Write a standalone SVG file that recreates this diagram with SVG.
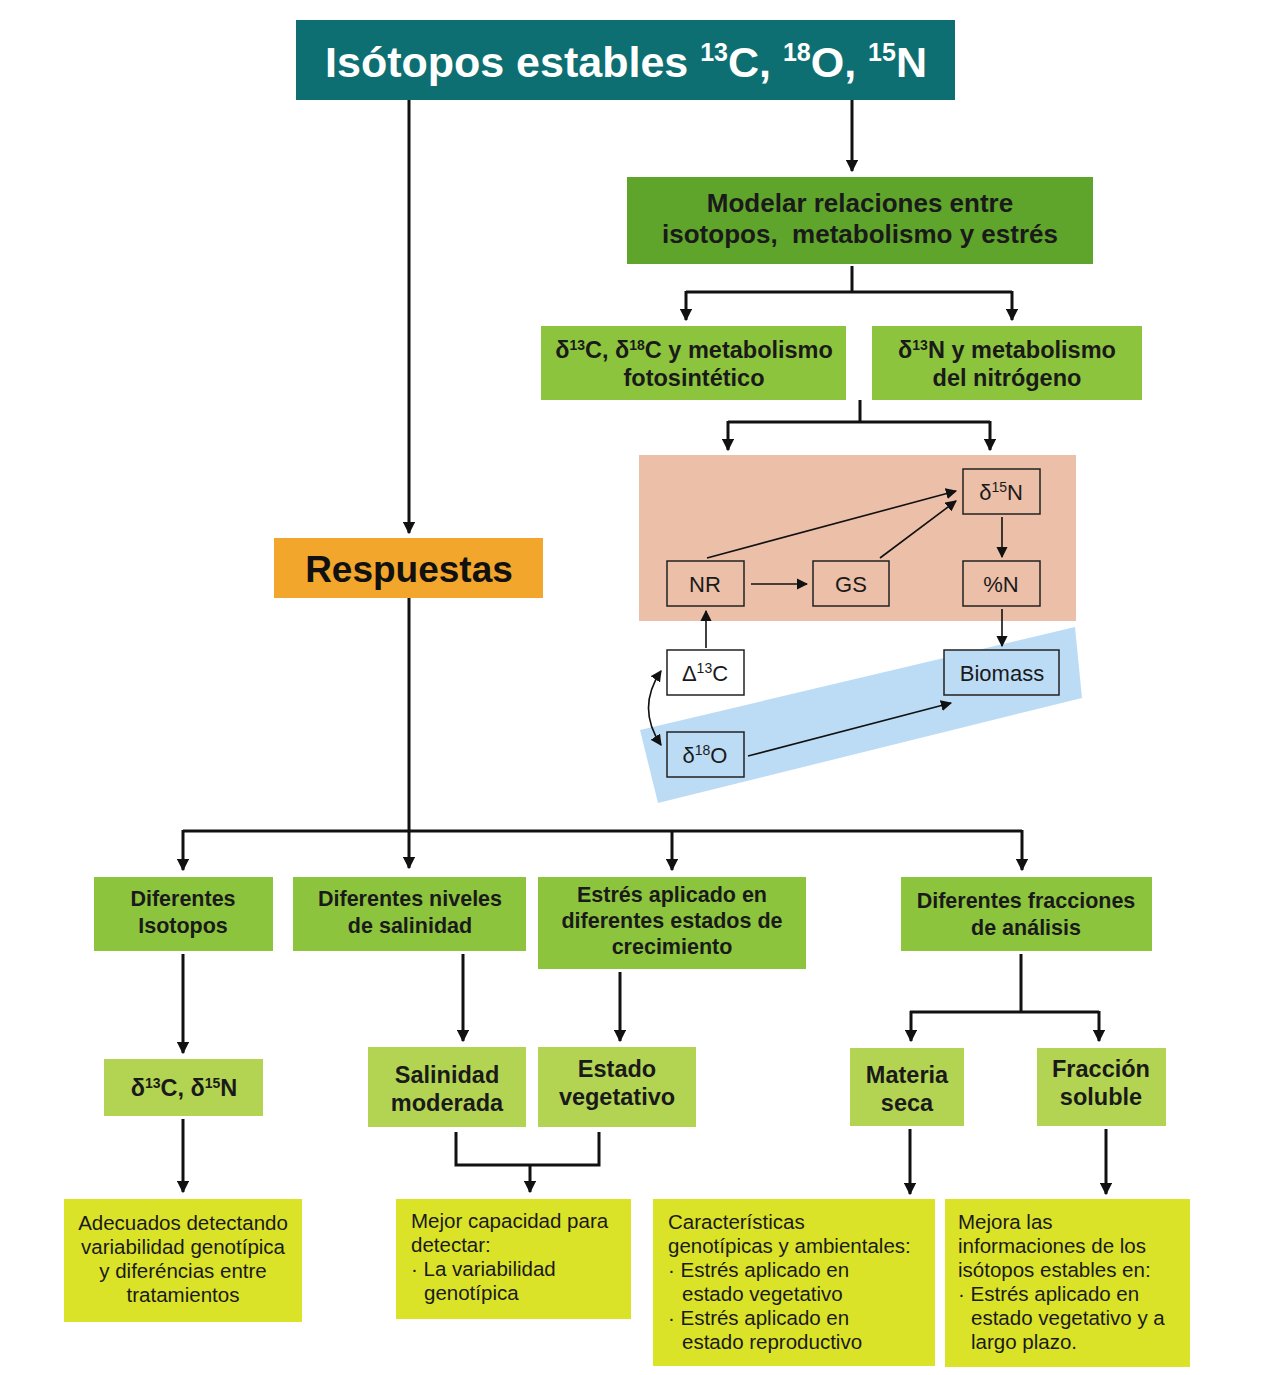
<svg xmlns="http://www.w3.org/2000/svg" width="1269" height="1375" viewBox="0 0 1269 1375">
  <defs>
    <marker id="ah" viewBox="0 0 10 10" refX="9" refY="5" markerWidth="4.2" markerHeight="4.2" orient="auto" markerUnits="strokeWidth">
      <path d="M0,0 L10,5 L0,10 z" fill="#111"/>
    </marker>
    <marker id="ahs" viewBox="0 0 10 10" refX="9" refY="5" markerWidth="7" markerHeight="7" orient="auto" markerUnits="strokeWidth">
      <path d="M0,0 L10,5 L0,10 z" fill="#111"/>
    </marker>
    <marker id="ahs0" viewBox="0 0 10 10" refX="1" refY="5" markerWidth="7" markerHeight="7" orient="auto" markerUnits="strokeWidth">
      <path d="M10,0 L0,5 L10,10 z" fill="#111"/>
    </marker>
  </defs>
  <style>
    text { font-family: "Liberation Sans", Arial, sans-serif; fill: #1a1a1a; }
    .title { fill: #ffffff; font-weight: bold; font-size: 43px; }
    .b24 { font-weight: bold; font-size: 26px; }
    .b22 { font-weight: bold; font-size: 23.5px; }
    .b20 { font-weight: bold; font-size: 21.5px; }
    .resp { font-weight: bold; font-size: 37px; fill: #111; }
    .r19 { font-size: 20.5px; }
    .n20 { font-size: 22px; }
    .c { text-anchor: middle; }
    .teal { fill: #0e6f73; }
    .g1 { fill: #5fa52b; }
    .g2 { fill: #8cc43e; }
    .g3 { fill: #b3d452; }
    .yel { fill: #dae328; }
    .org { fill: #f2a62c; }
    .nb { stroke: #222; stroke-width: 1.5; }
    .con { fill: none; stroke: #111; stroke-width: 3; }
    .thin { fill: none; stroke: #111; stroke-width: 1.6; }
  </style>

  <rect width="1269" height="1375" fill="#ffffff"/>

  <!-- background regions of the model -->
  <rect x="639" y="455" width="437" height="166" fill="#ecbfa8"/>
  <polygon points="640,730 1075,627 1082,698 658,803" fill="#bcdcf6"/>

  <!-- connectors -->
  <g id="connectors">
    <path class="con" d="M409,100 V533" marker-end="url(#ah)"/>
    <path class="con" d="M852,100 V171" marker-end="url(#ah)"/>
    <path class="con" d="M852,266 V292 M686,292 H1012"/>
    <path class="con" d="M686,291 V320" marker-end="url(#ah)"/>
    <path class="con" d="M1012,291 V320" marker-end="url(#ah)"/>
    <path class="con" d="M860,400 V422 M728,422 H990"/>
    <path class="con" d="M728,421 V450" marker-end="url(#ah)"/>
    <path class="con" d="M990,421 V450" marker-end="url(#ah)"/>

    <path class="con" d="M409,598 V868" marker-end="url(#ah)"/>
    <path class="con" d="M183,831 H1022"/>
    <path class="con" d="M183,830 V870" marker-end="url(#ah)"/>
    <path class="con" d="M672,830 V870" marker-end="url(#ah)"/>
    <path class="con" d="M1022,830 V870" marker-end="url(#ah)"/>

    <path class="con" d="M183,954 V1053" marker-end="url(#ah)"/>
    <path class="con" d="M463,954 V1041" marker-end="url(#ah)"/>
    <path class="con" d="M620,972 V1041" marker-end="url(#ah)"/>
    <path class="con" d="M1021,954 V1012 M910,1012 H1099"/>
    <path class="con" d="M911,1011 V1041" marker-end="url(#ah)"/>
    <path class="con" d="M1099,1011 V1041" marker-end="url(#ah)"/>

    <path class="con" d="M183,1119 V1192" marker-end="url(#ah)"/>
    <path class="con" d="M456,1132 V1165 H599 V1132"/>
    <path class="con" d="M530,1164 V1192" marker-end="url(#ah)"/>
    <path class="con" d="M910,1129 V1194" marker-end="url(#ah)"/>
    <path class="con" d="M1106,1129 V1194" marker-end="url(#ah)"/>

    <!-- model arrows -->
    <path class="thin" d="M707,558 L956,491" marker-end="url(#ahs)"/>
    <path class="thin" d="M751,584 H807" marker-end="url(#ahs)"/>
    <path class="thin" d="M880,558 L956,501" marker-end="url(#ahs)"/>
    <path class="thin" d="M1002,517 V557" marker-end="url(#ahs)"/>
    <path class="thin" d="M1002,609 V646" marker-end="url(#ahs)"/>
    <path class="thin" d="M706,648 V611" marker-end="url(#ahs)"/>
    <path class="thin" d="M748,756 L951,703" marker-end="url(#ahs)"/>
    <path class="thin" d="M661,671 Q636,708 661,745" marker-start="url(#ahs0)" marker-end="url(#ahs)"/>
  </g>

  <g id="n-title">
    <rect class="teal" x="296" y="20" width="659" height="80"/>
    <text class="title c" x="626" y="77">Isótopos estables <tspan font-size="25" dy="-16">13</tspan><tspan dy="16">C, </tspan><tspan font-size="25" dy="-16">18</tspan><tspan dy="16">O, </tspan><tspan font-size="25" dy="-16">15</tspan><tspan dy="16">N</tspan></text>
  </g>

  <g id="n-modelar">
    <rect class="g1" x="627" y="177" width="466" height="87"/>
    <text class="b24 c" x="860" y="212">Modelar relaciones entre</text>
    <text class="b24 c" x="860" y="243" xml:space="preserve">isotopos,  metabolismo y estrés</text>
  </g>

  <g id="n-fotosintetico">
    <rect class="g2" x="541" y="326" width="305" height="74"/>
    <text class="b22 c" x="694" y="358">δ<tspan font-size="14" dy="-8">13</tspan><tspan dy="8">C, δ</tspan><tspan font-size="14" dy="-8">18</tspan><tspan dy="8">C y metabolismo</tspan></text>
    <text class="b22 c" x="694" y="386">fotosintético</text>
  </g>

  <g id="n-nitrogeno">
    <rect class="g2" x="872" y="326" width="270" height="74"/>
    <text class="b22 c" x="1007" y="358">δ<tspan font-size="14" dy="-8">13</tspan><tspan dy="8">N y metabolismo</tspan></text>
    <text class="b22 c" x="1007" y="386">del nitrógeno</text>
  </g>

  <g id="n-d15n">
    <rect class="nb" fill="#ecbfa8" x="963" y="469" width="77" height="45"/>
    <text class="n20 c" x="1001" y="500">δ<tspan font-size="14" dy="-8">15</tspan><tspan dy="8">N</tspan></text>
  </g>
  <g id="n-nr">
    <rect class="nb" fill="#ecbfa8" x="667" y="561" width="77" height="45"/>
    <text class="n20 c" x="705" y="592">NR</text>
  </g>
  <g id="n-gs">
    <rect class="nb" fill="#ecbfa8" x="813" y="561" width="76" height="45"/>
    <text class="n20 c" x="851" y="592">GS</text>
  </g>
  <g id="n-pn">
    <rect class="nb" fill="#ecbfa8" x="963" y="561" width="77" height="45"/>
    <text class="n20 c" x="1001" y="592">%N</text>
  </g>
  <g id="n-d13c">
    <rect class="nb" fill="#ffffff" x="667" y="650" width="77" height="45"/>
    <text class="n20 c" x="705" y="681">Δ<tspan font-size="14" dy="-8">13</tspan><tspan dy="8">C</tspan></text>
  </g>
  <g id="n-biomass">
    <rect class="nb" fill="#bcdcf6" x="944" y="650" width="115" height="45"/>
    <text class="n20 c" x="1002" y="681">Biomass</text>
  </g>
  <g id="n-d18o">
    <rect class="nb" fill="#bcdcf6" x="667" y="732" width="77" height="45"/>
    <text class="n20 c" x="705" y="763">δ<tspan font-size="14" dy="-8">18</tspan><tspan dy="8">O</tspan></text>
  </g>

  <g id="n-respuestas">
    <rect class="org" x="274" y="538" width="269" height="60"/>
    <text class="resp c" x="409" y="582">Respuestas</text>
  </g>

  <g id="n-isotopos">
    <rect class="g2" x="94" y="877" width="179" height="74"/>
    <text class="b20 c" x="183" y="906">Diferentes</text>
    <text class="b20 c" x="183" y="933">Isotopos</text>
  </g>
  <g id="n-salinidad">
    <rect class="g2" x="293" y="877" width="233" height="74"/>
    <text class="b20 c" x="410" y="906">Diferentes niveles</text>
    <text class="b20 c" x="410" y="933">de salinidad</text>
  </g>
  <g id="n-estres">
    <rect class="g2" x="538" y="877" width="268" height="92"/>
    <text class="b20 c" x="672" y="902">Estrés aplicado en</text>
    <text class="b20 c" x="672" y="928">diferentes estados de</text>
    <text class="b20 c" x="672" y="954">crecimiento</text>
  </g>
  <g id="n-fracciones">
    <rect class="g2" x="901" y="877" width="251" height="74"/>
    <text class="b20 c" x="1026" y="908">Diferentes fracciones</text>
    <text class="b20 c" x="1026" y="935">de análisis</text>
  </g>

  <g id="n-d13c-d15n">
    <rect class="g3" x="104" y="1059" width="159" height="57"/>
    <text class="b22 c" x="184" y="1096">δ<tspan font-size="14" dy="-8">13</tspan><tspan dy="8">C, δ</tspan><tspan font-size="14" dy="-8">15</tspan><tspan dy="8">N</tspan></text>
  </g>
  <g id="n-moderada">
    <rect class="g3" x="368" y="1047" width="158" height="80"/>
    <text class="b22 c" x="447" y="1083">Salinidad</text>
    <text class="b22 c" x="447" y="1111">moderada</text>
  </g>
  <g id="n-vegetativo">
    <rect class="g3" x="538" y="1047" width="158" height="80"/>
    <text class="b22 c" x="617" y="1077">Estado</text>
    <text class="b22 c" x="617" y="1105">vegetativo</text>
  </g>
  <g id="n-materia">
    <rect class="g3" x="850" y="1048" width="114" height="78"/>
    <text class="b22 c" x="907" y="1083">Materia</text>
    <text class="b22 c" x="907" y="1111">seca</text>
  </g>
  <g id="n-soluble">
    <rect class="g3" x="1037" y="1048" width="129" height="78"/>
    <text class="b22 c" x="1101" y="1077">Fracción</text>
    <text class="b22 c" x="1101" y="1105">soluble</text>
  </g>

  <g id="n-adecuados">
    <rect class="yel" x="64" y="1199" width="238" height="123"/>
    <text class="r19 c" x="183" y="1230">Adecuados detectando</text>
    <text class="r19 c" x="183" y="1254">variabilidad genotípica</text>
    <text class="r19 c" x="183" y="1278">y diferéncias entre</text>
    <text class="r19 c" x="183" y="1302">tratamientos</text>
  </g>
  <g id="n-mejor">
    <rect class="yel" x="396" y="1199" width="235" height="120"/>
    <text class="r19" x="411" y="1228">Mejor capacidad para</text>
    <text class="r19" x="411" y="1252">detectar:</text>
    <text class="r19" x="411" y="1276">· La variabilidad</text>
    <text class="r19" x="424" y="1300">genotípica</text>
  </g>
  <g id="n-caracteristicas">
    <rect class="yel" x="653" y="1199" width="282" height="167"/>
    <text class="r19" x="668" y="1229">Características</text>
    <text class="r19" x="668" y="1253">genotípicas y ambientales:</text>
    <text class="r19" x="668" y="1277">· Estrés aplicado en</text>
    <text class="r19" x="682" y="1301">estado vegetativo</text>
    <text class="r19" x="668" y="1325">· Estrés aplicado en</text>
    <text class="r19" x="682" y="1349">estado reproductivo</text>
  </g>
  <g id="n-mejora">
    <rect class="yel" x="945" y="1199" width="245" height="168"/>
    <text class="r19" x="958" y="1229">Mejora las</text>
    <text class="r19" x="958" y="1253">informaciones de los</text>
    <text class="r19" x="958" y="1277">isótopos estables en:</text>
    <text class="r19" x="958" y="1301">· Estrés aplicado en</text>
    <text class="r19" x="971" y="1325">estado vegetativo y a</text>
    <text class="r19" x="971" y="1349">largo plazo.</text>
  </g>
</svg>
